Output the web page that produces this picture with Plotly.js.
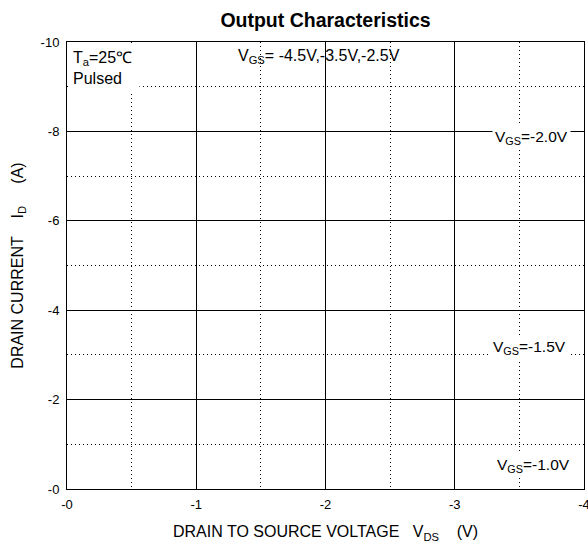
<!DOCTYPE html>
<html>
<head>
<meta charset="utf-8">
<script src="https://cdn.plot.ly/plotly-3.0.1.min.js"></script>
<style>html,body{margin:0;padding:0;background:#fff;}#chart{width:588px;height:548px;}</style>
</head>
<body>
<div id="chart"></div>
<script>
// Axis ticks
const xMajorVals = [0, -1, -2, -3, -4];
const xMajorText = ["-0", "-1", "-2", "-3", "-4"];
const xMinorVals = [-0.5, -1.5, -2.5, -3.5];
const yMajorVals = [0, -2, -4, -6, -8, -10];
const yMajorText = ["-0", "-2", "-4", "-6", "-8", "-10"];
const yMinorVals = [-1, -3, -5, -7, -9];

// Curve labels (the curves themselves are not shown in the reference)
const curveLabels = ["V<sub>GS</sub>= -4.5V,-3.5V,-2.5V", "V<sub>GS</sub>=-2.0V", "V<sub>GS</sub>=-1.5V", "V<sub>GS</sub>=-1.0V"];
const labelX = [-1.95, -3.59, -3.58, -3.61];
const labelY = [-9.68, -7.87, -3.17, -0.52];
const noteText = "T<sub>a</sub>=25℃<br>Pulsed";

const FONT = "Liberation Sans, Arial, sans-serif";

const annotations = curveLabels.map((t, i) => ({
  text: t, x: labelX[i], y: labelY[i], xref: 'x', yref: 'y',
  showarrow: false, xanchor: 'center', yanchor: 'middle',
  font: {family: FONT, size: i === 0 ? 16 : 15.5, color: '#000'},
  bgcolor: i === 0 ? 'rgba(0,0,0,0)' : '#fff', borderpad: 2
}));
annotations.push({
  text: noteText, x: 0, y: -10, xref: 'x', yref: 'y', xanchor: 'left', yanchor: 'top',
  xshift: 1, yshift: -1, showarrow: false, align: 'left', valign: 'middle',
  width: 62, height: 40, borderpad: 4, bgcolor: '#fff',
  font: {family: FONT, size: 16, color: '#000'}
});

const nb = n => "\u00a0".repeat(n);
const layout = {
  width: 588, height: 548,
  margin: {l: 67, r: 4, t: 42, b: 59},
  paper_bgcolor: '#fff', plot_bgcolor: '#fff',
  showlegend: false,
  title: {text: '<b>Output Characteristics</b>', x: 0.5, xref: 'paper', xanchor: 'center',
    y: 1 - 20/548, yanchor: 'middle', font: {family: FONT, size: 19.5, color: '#000'}},
  xaxis: {
    range: [0, -4], tickmode: 'array', tickvals: xMajorVals, ticktext: xMajorText,
    showgrid: true, gridcolor: '#000', gridwidth: 1, zeroline: false,
    showline: true, mirror: true, linecolor: '#000', linewidth: 1, ticks: '',
    ticklabelstandoff: 3, ticklabeloverflow: 'allow',
    tickfont: {family: FONT, size: 13, color: '#000'},
    minor: {tickmode: 'array', tickvals: xMinorVals, showgrid: true, gridcolor: '#000', gridwidth: 1, griddash: '1px,3px', ticks: ''},
    title: {text: 'DRAIN TO SOURCE VOLTAGE' + nb(3) + 'V<sub>DS</sub>' + nb(4) + '(V)', standoff: 15,
      font: {family: FONT, size: 16, color: '#000'}},
    fixedrange: true
  },
  yaxis: {
    range: [0, -10], tickmode: 'array', tickvals: yMajorVals, ticktext: yMajorText,
    showgrid: true, gridcolor: '#000', gridwidth: 1, zeroline: false,
    showline: true, mirror: true, linecolor: '#000', linewidth: 1, ticks: '',
    ticklabelstandoff: 4, ticklabeloverflow: 'allow',
    tickfont: {family: FONT, size: 13, color: '#000'},
    minor: {tickmode: 'array', tickvals: yMinorVals, showgrid: true, gridcolor: '#000', gridwidth: 1, griddash: '1px,3px', ticks: ''},
    title: {text: 'DRAIN CURRENT' + nb(4) + 'I<sub>D</sub>' + nb(5) + '(A)' + nb(6), standoff: 13,
      font: {family: FONT, size: 16, color: '#000'}},
    fixedrange: true
  },
  annotations: annotations
};

Plotly.newPlot('chart', [{x: [], y: [], type: 'scatter', mode: 'lines'}], layout, {displayModeBar: false, staticPlot: true});
</script>
</body>
</html>
